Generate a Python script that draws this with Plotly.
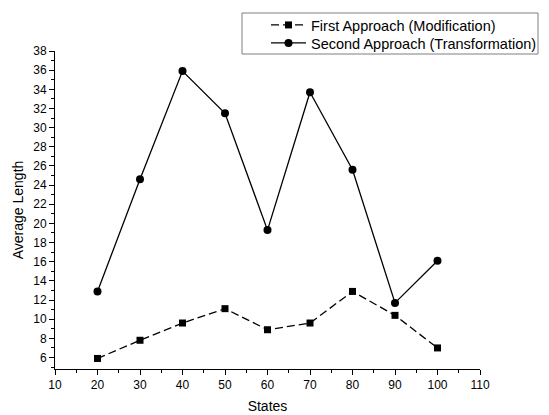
import plotly.graph_objects as go

states = [20, 30, 40, 50, 60, 70, 80, 90, 100]
first_approach = [5.9, 7.8, 9.6, 11.1, 8.9, 9.6, 12.9, 10.4, 7.0]
second_approach = [12.9, 24.6, 35.9, 31.5, 19.3, 33.7, 25.6, 11.7, 16.1]
x_ticks = list(range(10, 111, 10))
y_ticks = list(range(6, 39, 2))

FONT = "Liberation Sans, Arial, sans-serif"

fig = go.Figure()
fig.add_trace(go.Scatter(
    x=states, y=first_approach, mode="lines+markers",
    name="First Approach (Modification)", legend="legend",
    line=dict(color="black", width=1.3, dash="8px,4px"),
    marker=dict(symbol="square", size=7, color="black"),
))
fig.add_trace(go.Scatter(
    x=states, y=second_approach, mode="lines+markers",
    name="Second Approach (Transformation)", legend="legend2",
    line=dict(color="black", width=1.3),
    marker=dict(symbol="circle", size=8, color="black"),
))

axis_common = dict(
    showgrid=False, zeroline=False, showline=True, linecolor="black", linewidth=1,
    ticks="outside", ticklen=5, tickwidth=1, tickcolor="black", automargin=False,
    tickfont=dict(family=FONT, size=12, color="black"),
    title_font=dict(family=FONT, size=14, color="black"),
)

fig.update_xaxes(
    range=[10, 110], tickvals=x_ticks, title_text="States", title_standoff=9,
    minor=dict(ticks="outside", ticklen=3, dtick=5, tick0=10, tickcolor="black", showgrid=False),
    **axis_common,
)
fig.update_yaxes(
    range=[4.8, 38], tickvals=y_ticks, title_text="Average Length", title_standoff=6,
    minor=dict(ticks="outside", ticklen=3, dtick=1, tick0=6, tickcolor="black", showgrid=False),
    **axis_common,
)

# plot area in window pixels: x 55..480, y 51..369 (page body has an 8px offset)
fig.add_shape(type="rect", xref="paper", yref="paper",
              x0=(242 - 55) / 425, x1=(538 - 55) / 425,
              y0=(369 - 54) / 318, y1=(369 - 13) / 318,
              line=dict(color="#7f7f7f", width=1), fillcolor="rgba(0,0,0,0)")

leg_common = dict(
    xanchor="left", yanchor="middle",
    bgcolor="rgba(0,0,0,0)", borderwidth=0,
    font=dict(family=FONT, size=14.5, color="black"),
    itemwidth=35,
)

fig.update_layout(
    width=549, height=415,
    margin=dict(l=47, r=77, t=43, b=54, autoexpand=False),
    plot_bgcolor="white", paper_bgcolor="white",
    showlegend=True,
    legend=dict(x=(266 - 55) / 425, y=(369 - 25) / 318, **leg_common),
    legend2=dict(x=(266 - 55) / 425, y=(369 - 43) / 318, **leg_common),
)

fig.write_html("out.html")
